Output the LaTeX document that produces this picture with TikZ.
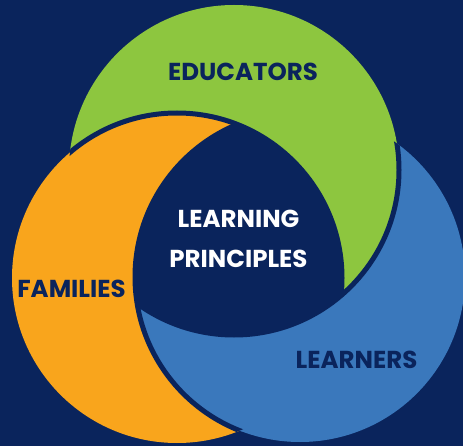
\documentclass[tikz,border=0pt]{standalone}
\usepackage{fontspec}
\setmainfont{Poppins}
\definecolor{navy}{HTML}{0A245C}
\definecolor{cgreen}{HTML}{8DC63F}
\definecolor{corange}{HTML}{F9A51C}
\definecolor{cblue}{HTML}{3A78BC}
\tikzset{
  gap/.style={draw=navy, line width=5pt},
  lbl/.style={font=\bfseries\fontsize{24.5}{24.5}\selectfont, text=navy, inner sep=0pt},
  wlbl/.style={font=\bfseries\fontsize{24.5}{24.5}\selectfont, text=white, inner sep=0pt},
}
\begin{document}
\begin{tikzpicture}[x=1pt,y=-1pt]
\fill[navy] (0,0) rectangle (463,446);
\useasboundingbox (0,0) rectangle (463,446);
\coordinate (G) at (234,170);
\coordinate (O) at (177,278);
\coordinate (B) at (300,277);
\def\R{165}
% base fills
\fill[cblue] (B) circle[radius=\R];
\fill[cgreen] (G) circle[radius=\R];
\fill[corange] (O) circle[radius=\R];
\begin{scope}
  \clip (O) circle[radius=\R+1.5];
  \fill[cblue] (B) circle[radius=\R];
\end{scope}
% centre region
\begin{scope}
  \clip (G) circle[radius=\R];
  \clip (O) circle[radius=\R];
  \fill[navy] (B) circle[radius=\R];
\end{scope}
% outlines
\begin{scope}
  \clip (B) circle[radius=\R];
  \draw[gap] (G) circle[radius=\R];
\end{scope}
\begin{scope}
  \clip (G) circle[radius=\R];
  \draw[gap] (O) circle[radius=\R];
\end{scope}
\begin{scope}
  \clip (O) circle[radius=\R];
  \draw[gap] (B) circle[radius=\R];
\end{scope}
% labels
\node[lbl] (edu) at (243,72) {EDUCATORS};
\node[lbl] (fam) at (71.5,288.5) {FAMILIES};
\node[lbl] (lrn) at (356.5,360) {LEARNERS};
\node[wlbl] (l1) at (238.5,218.5) {LEARNING};
\node[wlbl] (l2) at (238.5,259) {PRINCIPLES};
\end{tikzpicture}
\end{document}
